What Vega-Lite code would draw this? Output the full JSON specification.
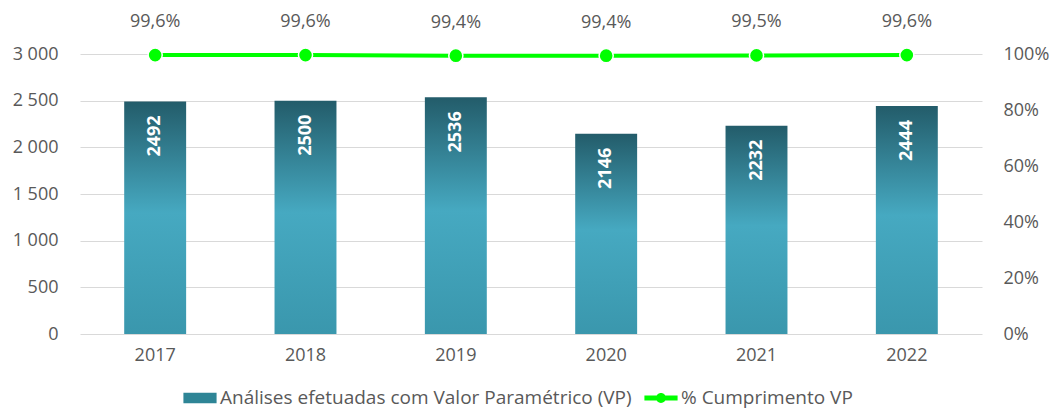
{
  "$schema": "https://vega.github.io/schema/vega-lite/v6.json",
  "width": 902,
  "height": 280,
  "autosize": "none",
  "padding": {"left": 80, "top": 54, "right": 71, "bottom": 75},
  "background": "white",
  "data": {
    "values": [
      {"ano": "2017", "analises": 2492, "cumprimento": 0.996},
      {"ano": "2018", "analises": 2500, "cumprimento": 0.996},
      {"ano": "2019", "analises": 2536, "cumprimento": 0.994},
      {"ano": "2020", "analises": 2146, "cumprimento": 0.994},
      {"ano": "2021", "analises": 2232, "cumprimento": 0.995},
      {"ano": "2022", "analises": 2444, "cumprimento": 0.996}
    ]
  },
  "encoding": {
    "x": {
      "field": "ano",
      "type": "nominal",
      "title": null,
      "scale": {"paddingInner": 0.588, "paddingOuter": 0.294},
      "axis": {"labelAngle": 0, "ticks": false, "domain": false, "labelPadding": 12, "labelFontSize": 18, "labelColor": "#595959", "labelFont": "Open Sans"}
    }
  },
  "layer": [
    {
      "layer": [
        {
          "mark": {
            "type": "bar",
            "color": {
              "gradient": "linear",
              "x1": 0, "y1": 0, "x2": 0, "y2": 1,
              "stops": [
                {"offset": 0, "color": "#235C6A"},
                {"offset": 0.48, "color": "#46A9C1"},
                {"offset": 1, "color": "#3A97AD"}
              ]
            }
          },
          "encoding": {
            "y": {
              "field": "analises",
              "type": "quantitative",
              "title": null,
              "scale": {"domain": [0, 3000], "nice": false},
              "axis": {
                "values": [0, 500, 1000, 1500, 2000, 2500, 3000],
                "labelExpr": "replace(format(datum.value, ','), ',', ' ')",
                "ticks": false, "domain": false, "labelPadding": 22,
                "labelFontSize": 18, "labelColor": "#595959", "labelFont": "Open Sans",
                "gridColor": "#D9D9D9", "gridWidth": 1
              }
            }
          }
        },
        {
          "mark": {"type": "text", "angle": 270, "align": "right", "baseline": "middle", "dx": -14, "color": "white", "fontSize": 18, "fontWeight": "bold", "font": "Open Sans"},
          "encoding": {
            "y": {"field": "analises", "type": "quantitative"},
            "text": {"field": "analises", "type": "quantitative", "format": "d"}
          }
        }
      ]
    },
    {
      "layer": [
        {
          "mark": {"type": "line", "strokeWidth": 4},
          "encoding": {
            "y": {
              "field": "cumprimento",
              "type": "quantitative",
              "title": null,
              "scale": {"domain": [0, 1], "nice": false},
              "axis": {
                "orient": "right", "format": ".0%", "values": [0, 0.2, 0.4, 0.6, 0.8, 1],
                "grid": false, "ticks": false, "domain": false, "labelPadding": 21,
                "labelFontSize": 18, "labelColor": "#595959", "labelFont": "Open Sans"
              }
            },
            "color": {
              "datum": "% Cumprimento VP",
              "type": "nominal",
              "scale": {
                "domain": ["Análises efetuadas com Valor Paramétrico (VP)", "% Cumprimento VP"],
                "range": ["#2E8596", "#00FF00"]
              },
              "legend": {
                "title": null,
                "orient": "none",
                "direction": "horizontal",
                "legendX": 103,
                "legendY": 327,
                "labelFontSize": 19,
                "labelColor": "#595959",
                "labelFont": "Open Sans",
                "labelLimit": 700,
                "labelOffset": 3,
                "columnPadding": 12,
                "symbolSize": 1100,
                "encode": {
                  "symbols": {
                    "update": {
                      "shape": {"signal": "datum.value === '% Cumprimento VP' ? 'M-1,-0.15H1V0.15H-1Z M-0.3,0A0.3,0.3 0 1,1 0.3,0A0.3,0.3 0 1,1 -0.3,0Z' : 'M-1,-0.32H1V0.32H-1Z'"},
                      "fill": {"signal": "datum.value === '% Cumprimento VP' ? '#00FF00' : '#2E8596'"},
                      "stroke": {"value": "transparent"},
                      "strokeWidth": {"value": 0},
                      "opacity": {"value": 1},
                      "fillOpacity": {"value": 1}
                    }
                  }
                }
              }
            }
          }
        },
        {
          "mark": {"type": "point", "filled": true, "shape": "circle", "size": 200, "fill": "#00FF00", "stroke": "white", "strokeWidth": 1.5, "opacity": 1},
          "encoding": {
            "y": {"field": "cumprimento", "type": "quantitative"}
          }
        },
        {
          "mark": {"type": "text", "dy": -33, "baseline": "middle", "fontSize": 18, "color": "#595959", "font": "Open Sans"},
          "encoding": {
            "y": {"field": "cumprimento", "type": "quantitative"},
            "text": {"field": "cumprimento", "type": "quantitative", "format": ".1%"}
          }
        }
      ]
    }
  ],
  "resolve": {"scale": {"y": "independent"}},
  "config": {
    "view": {"stroke": null},
    "locale": {"number": {"decimal": ",", "thousands": " ", "grouping": [3], "currency": ["", " €"]}}
  }
}
